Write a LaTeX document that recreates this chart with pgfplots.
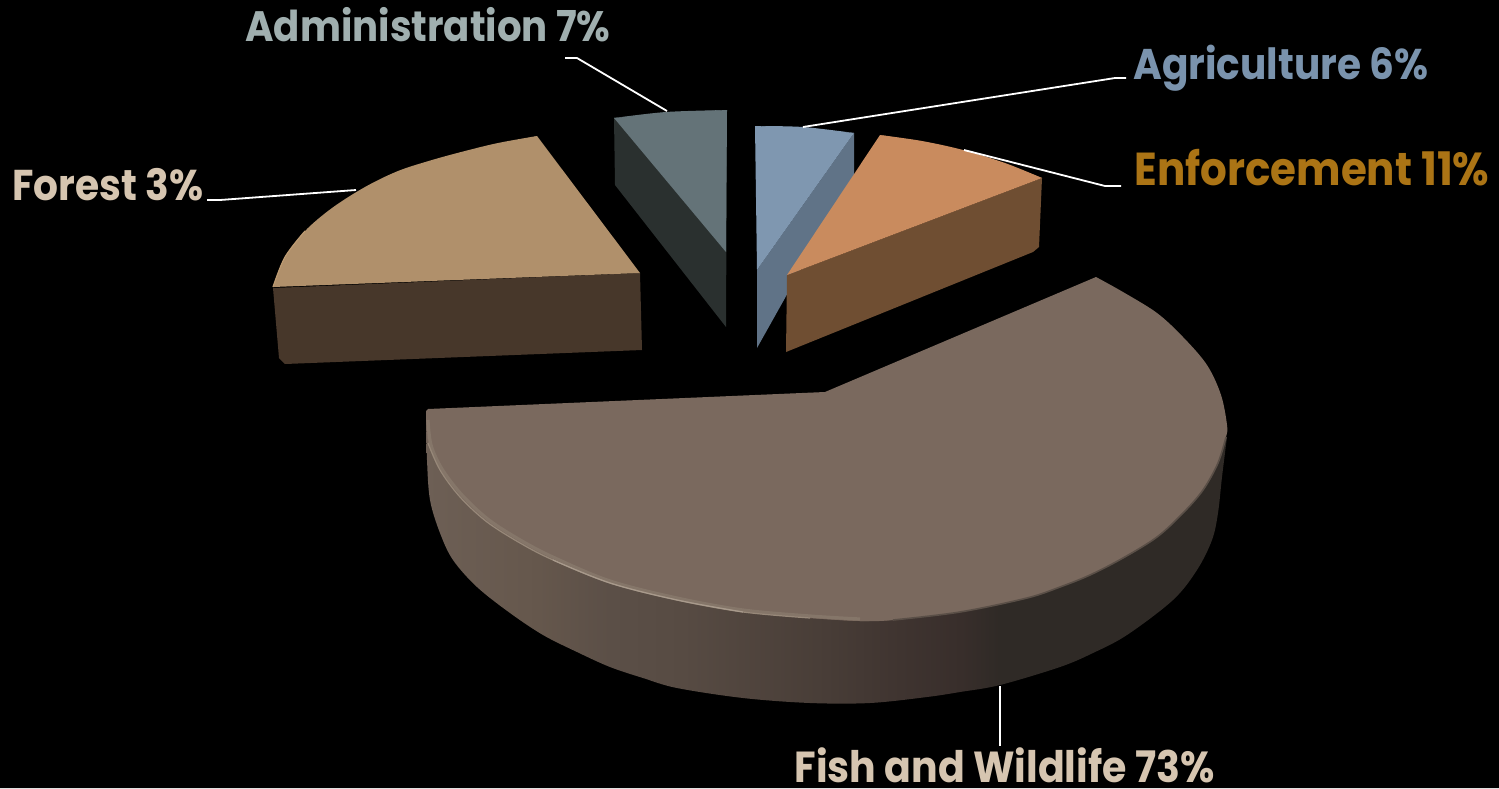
\documentclass[border=0pt]{standalone}
\usepackage{pgfplots}
\pgfplotsset{compat=1.18}
\usepackage{fontspec}
\setmainfont{Poppins}
\definecolor{fishtop}{HTML}{7A695E}
\definecolor{fishrim}{HTML}{A89A8C}
\definecolor{fishmid}{HTML}{978879}
\definecolor{fishsoft}{HTML}{857669}
\definecolor{fishedge}{HTML}{5A4F47}
\definecolor{foresttop}{HTML}{B0906B}
\definecolor{forestrim}{HTML}{BD9B72}
\definecolor{forestside}{HTML}{47372A}
\definecolor{admintop}{HTML}{647378}
\definecolor{adminside}{HTML}{2A302F}
\definecolor{agritop}{HTML}{7F97B0}
\definecolor{agriside}{HTML}{607387}
\definecolor{enftop}{HTML}{C98B5E}
\definecolor{enfside}{HTML}{6F4E32}
\definecolor{labadmin}{HTML}{A0AFAF}
\definecolor{labagri}{HTML}{7A93AD}
\definecolor{labenf}{HTML}{AB7415}
\definecolor{labfish}{HTML}{D6C5B0}
\definecolor{f0}{HTML}{6D5F55}
\definecolor{f1}{HTML}{65574C}
\definecolor{f2}{HTML}{5B4F47}
\definecolor{f3}{HTML}{574B43}
\definecolor{f4}{HTML}{483D37}
\definecolor{f5}{HTML}{3F3430}
\definecolor{f6}{HTML}{382E2B}
\definecolor{f7}{HTML}{2F2A26}
\pgfdeclarehorizontalshading{fishside}{100bp}{
  color(0bp)=(f0); color(25bp)=(f0); color(32bp)=(f1); color(36.5bp)=(f2);
  color(41bp)=(f3); color(50bp)=(f4); color(54.6bp)=(f5); color(58.4bp)=(f6);
  color(60.8bp)=(f7); color(100bp)=(f7)
}
\newcommand{\lab}[3]{\resizebox{#1pt}{!}{\scalebox{1}[1.1]{\color{#2}\bfseries #3}}}
\begin{document}
\begin{tikzpicture}
\begin{axis}[
    scale only axis, width=749.5pt, height=394pt,
    xmin=0, xmax=1499, ymin=0, ymax=788, y dir=reverse,
    hide axis,
    every axis plot/.append style={no markers, line join=round},
    arc/.style={smooth, tension=0.55, draw=none},
    wedge/.style={sharp plot, draw=none},
    leader/.style={draw=white, line width=0.9pt, sharp plot},
  ]
  % background
  \addplot[fill=black, wedge] coordinates {(0,0) (1499,0) (1499,788) (0,788) (0,0)};

  % Administration
  \addplot[fill=adminside, wedge] coordinates {(614,118) (615,185) (726,327) (727,110) (614,118)};
  \addplot[fill=admintop, arc] coordinates {(614,118) (666,112) (727,110)};
  \addplot[fill=admintop, wedge] coordinates {(614,118) (666,113) (727,110) (726,252) (614,118)};

  % Agriculture
  \addplot[fill=agriside, wedge] coordinates {(854,133) (854,175) (757,348) (757,270) (854,133)};
  \addplot[fill=agritop, arc] coordinates {(755,126) (803,127) (854,133)};
  \addplot[fill=agritop, wedge] coordinates {(755,126) (803,128) (854,133) (757,270) (755,126)};

  % Enforcement
  \addplot[fill=enfside, wedge] coordinates {(1042,178) (1039,247) (1033,252) (786,352) (787,275) (1042,178)};
  \addplot[fill=enftop, arc] coordinates {(880,135) (922,141) (963,150) (1005,163) (1042,178)};
  \addplot[fill=enftop, wedge] coordinates {(880,135) (922,142) (963,151) (1005,164) (1042,178) (787,275) (880,135)};

  % Forest
  \addplot[fill=forestside, wedge] coordinates {(273,288) (279,358) (285,364) (642,350) (640,273) (273,288)};
  \addplot[fill=foresttop, arc] coordinates {(537,136) (498,143) (465,151) (432,160) (398,171) (365,187) (332,208) (305,231) (285,257) (273,287)};
  \addplot[fill=foresttop, wedge] coordinates {(537,136) (432,166) (332,216) (273,287) (640,273) (537,136)};
  \addplot[draw=forestrim, line width=0.6pt, smooth, tension=0.55] coordinates {(273,287) (285,257) (305,231)};

  % Fish and Wildlife
  \addplot[shade, shading=fishside, arc] coordinates {
    (426,415) (427,460) (430,500) (440,533) (453,560) (477,587) (510,613) (543,635) (577,652)
    (610,667) (643,678) (677,688) (743,698) (810,703) (870,703) (927,697) (960,692)
    (1000,685) (1060,667) (1093,653) (1127,635) (1173,600) (1197,570) (1212,540)
    (1218,513) (1222,477) (1227,437)};
  \addplot[fill=fishtop, arc] coordinates {
    (1096,277) (1123,292) (1157,313) (1183,337) (1207,365) (1221,395) (1227,425) (1226,437)
    (1218,463) (1203,490) (1183,513) (1157,537) (1123,558) (1090,575) (1060,587) (1027,598)
    (960,612) (893,620) (860,621) (810,618)};
  \addplot[fill=fishtop, arc] coordinates {
    (893,620) (860,621) (810,618) (743,612) (677,600) (610,583) (553,560)
    (520,543) (487,522) (460,497) (440,470) (428,443) (426,411)};
  \addplot[fill=fishtop, wedge] coordinates {
    (426,411) (428,409) (825,392) (1096,277) (1130,400) (1060,560) (880,606) (600,566) (440,440) (426,411)};
  % rim highlight along the near edge
  \addplot[draw=fishsoft, line width=1.6pt, smooth, tension=0.55] coordinates {
    (428,420) (431,445) (442,469) (462,495) (489,520) (522,541) (555,558) (610,581) (677,598) (743,610) (810,616) (860,619)};
  \addplot[draw=fishmid, line width=0.6pt, smooth, tension=0.55] coordinates {
    (428,443) (440,470) (460,497) (487,522) (520,543) (553,560) (610,583) (677,600) (743,612) (810,618)};
  \addplot[draw=fishrim, line width=0.6pt, smooth, tension=0.55] coordinates {
    (553,560) (610,583) (677,600) (743,612)};
  \addplot[draw=fishedge, line width=0.8pt, smooth, tension=0.55] coordinates {
    (893,620) (960,612) (1027,598) (1060,587) (1090,575) (1123,558) (1157,537) (1183,513)
    (1203,490) (1218,463) (1226,437)};

  % leader lines
  \addplot[leader] coordinates {(565,58) (577,58) (667,111)};
  \addplot[leader] coordinates {(803,127) (1115,78) (1126,78)};
  \addplot[leader] coordinates {(964,150) (1105,186) (1121,186)};
  \addplot[leader] coordinates {(356,190) (220,200) (207,200)};
  \addplot[leader] coordinates {(1000,686) (1000,746)};

  % labels
  \node[anchor=base west, inner sep=0pt] at (axis cs:245,41) {\lab{182.5}{labadmin}{Administration 7\%}};
  \node[anchor=base west, inner sep=0pt] at (axis cs:1133,79) {\lab{147.5}{labagri}{Agriculture 6\%}};
  \node[anchor=base west, inner sep=0pt] at (axis cs:1134,185) {\lab{177.5}{labenf}{Enforcement 11\%}};
  \node[anchor=base west, inner sep=0pt] at (axis cs:12,200) {\lab{95.5}{labfish}{Forest 3\%}};
  \node[anchor=base west, inner sep=0pt] at (axis cs:794,782) {\lab{210}{labfish}{Fish and Wildlife 73\%}};
\end{axis}
\end{tikzpicture}
\end{document}
